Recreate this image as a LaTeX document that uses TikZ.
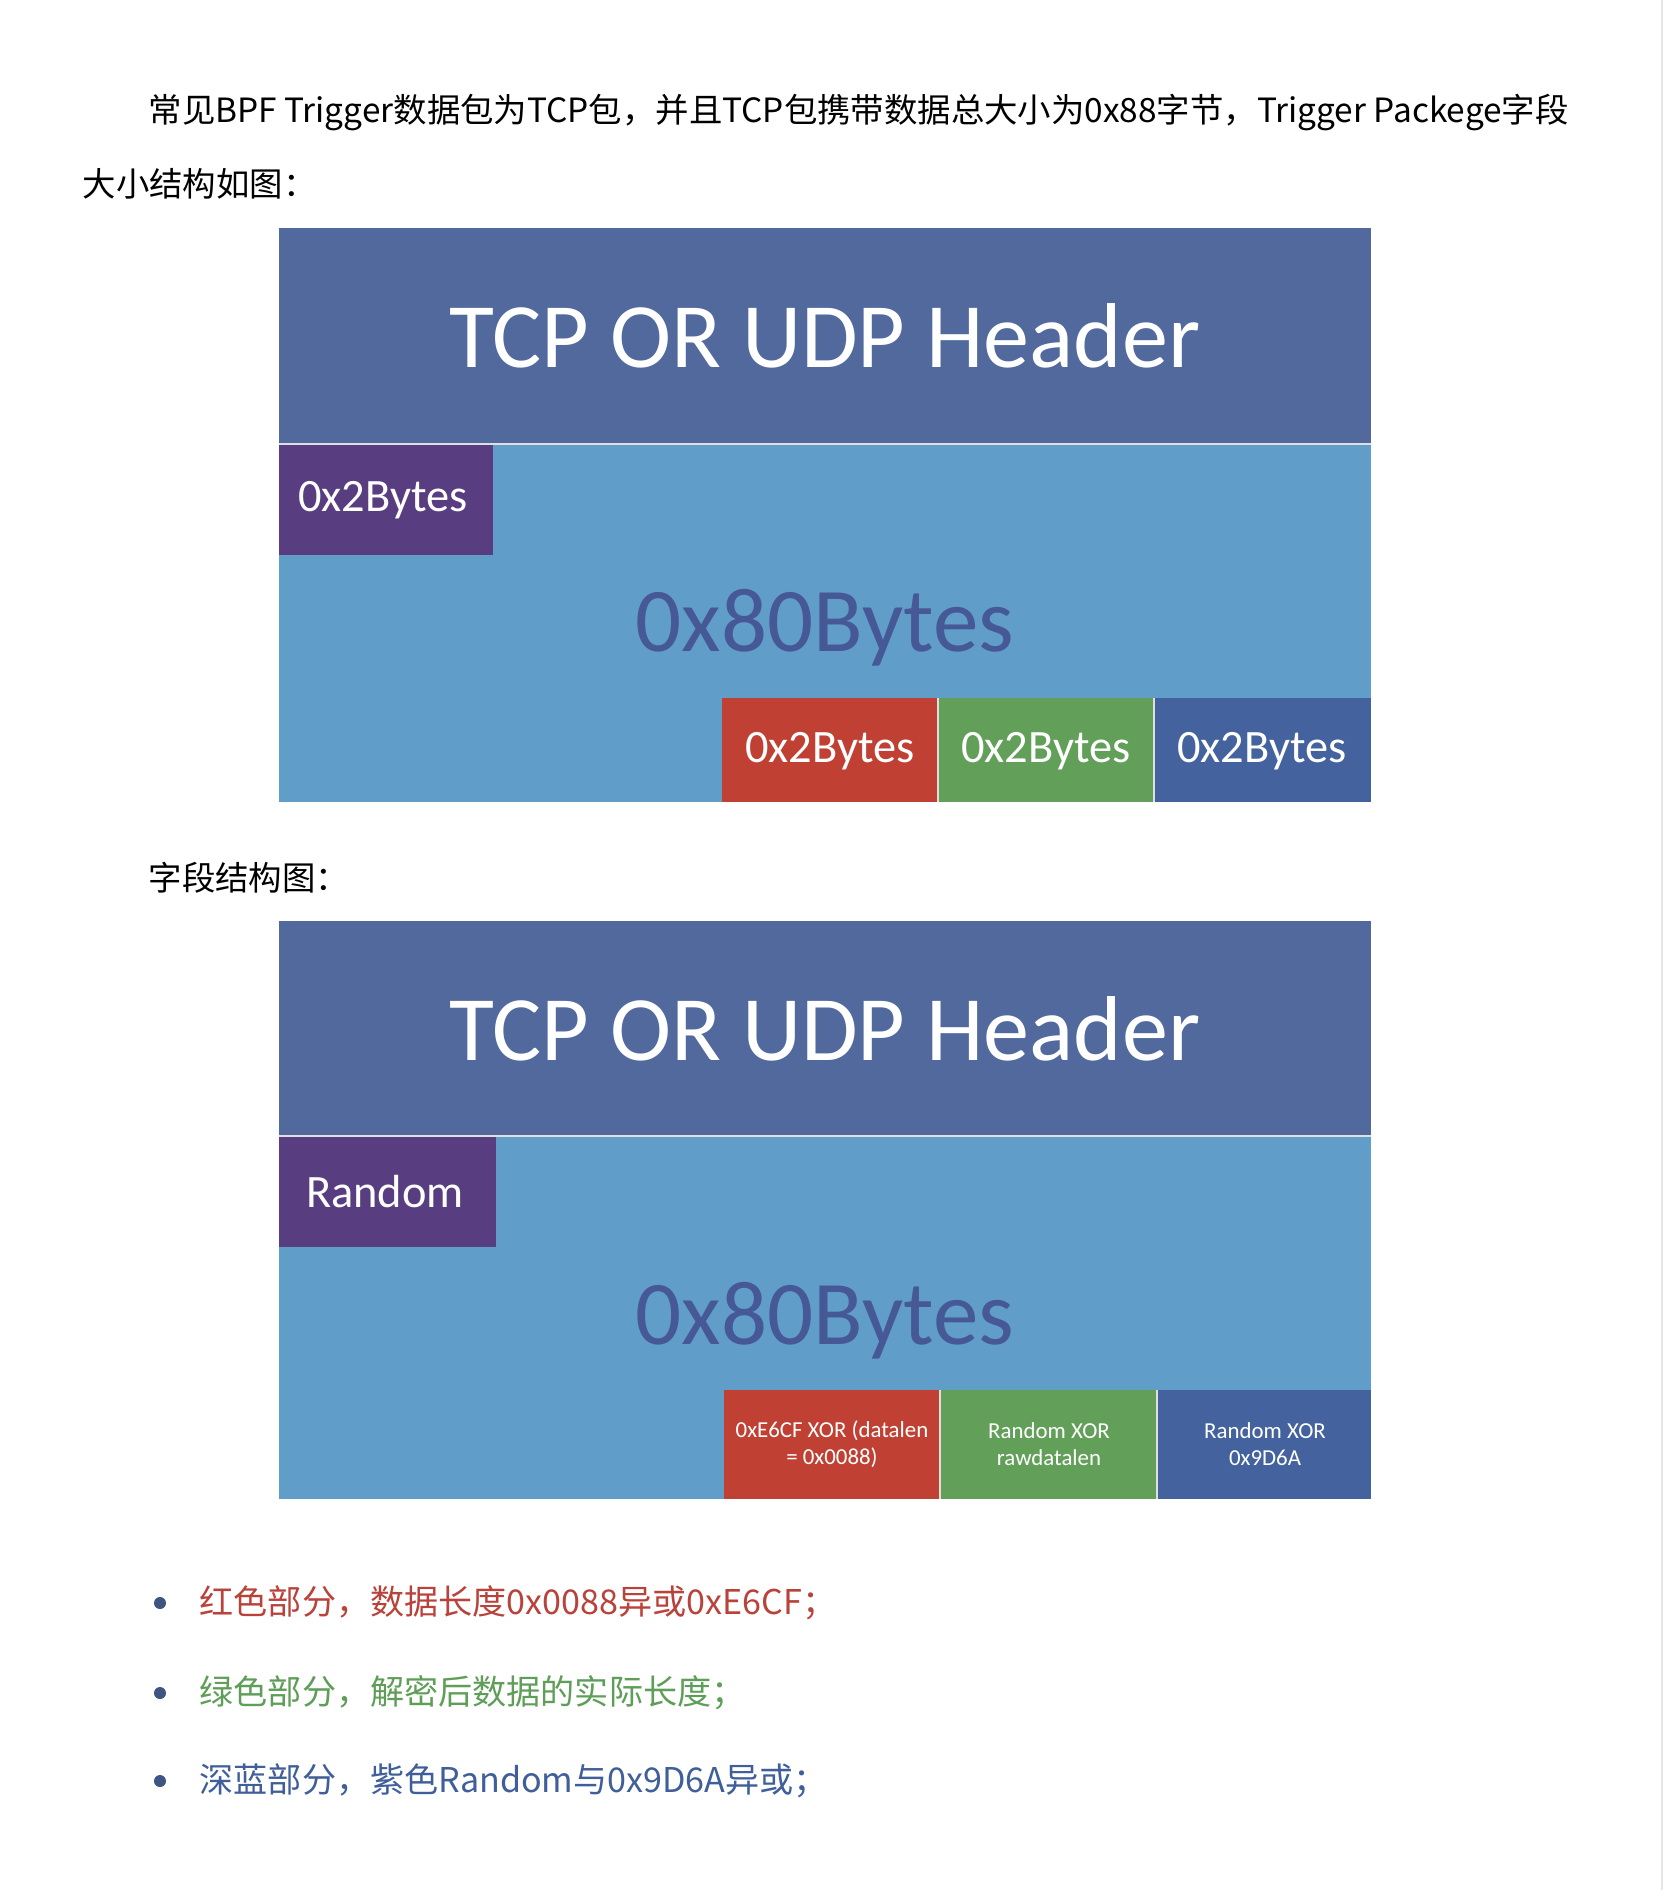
\documentclass[tikz,border=0pt]{standalone}
\usepackage{fontspec}
\setmainfont{Noto Sans CJK SC}
\newfontfamily\boxfont{Carlito}
\usetikzlibrary{positioning}
\definecolor{hdrblue}{RGB}{82,105,157}
\definecolor{bodyblue}{RGB}{96,157,200}
\definecolor{boxpurple}{RGB}{88,62,128}
\definecolor{boxred}{RGB}{192,65,52}
\definecolor{boxgreen}{RGB}{98,160,90}
\definecolor{boxdark}{RGB}{68,98,158}
\definecolor{bigtxt}{RGB}{70,88,150}
\definecolor{txtred}{RGB}{185,66,58}
\definecolor{txtgreen}{RGB}{94,158,88}
\definecolor{txtblue}{RGB}{63,94,154}
\definecolor{dotblue}{RGB}{62,84,130}
\tikzset{
  para/.style={anchor=west, inner sep=0pt, font=\fontsize{9.5}{11}\selectfont},
  note/.style={anchor=west, inner sep=0pt, font=\fontsize{9.7}{11}\selectfont},
  hdrtxt/.style={text=white, inner sep=0pt, font=\boxfont\fontsize{26.2}{30}\selectfont},
  bigbytes/.style={text=bigtxt, inner sep=0pt, font=\boxfont\fontsize{25.9}{30}\selectfont},
  midtxt/.style={text=white, inner sep=0pt, font=\boxfont\fontsize{13.2}{16}\selectfont},
  smalltxt/.style={text=white, inner sep=0pt, align=center, font=\boxfont\fontsize{6.5}{7.8}\selectfont},
  sep/.style={white!75!gray, line width=0.5pt}
}
\begin{document}
\begin{tikzpicture}[x=0.01cm, y=-0.01cm]
\useasboundingbox[fill=white] (0,0) rectangle (1664,1890);
\draw[gray!20, line width=0.6pt] (1662,0)--(1662,1890);
% intro text
\node[para] (introA) at (148,113) {常见BPF Trigger数据包为TCP包，并且TCP包携带数据总大小为0x88字节，Trigger Packege字段};
\node[para] (introB) at (82,184) {大小结构如图：};
% first structure
\fill[hdrblue] (279,228) rectangle (1371,444);
\fill[bodyblue] (279,444) rectangle (1371,802);
\fill[boxpurple] (279,445) rectangle (493,555);
\fill[boxred] (722,698) rectangle (938,802);
\fill[boxgreen] (938,698) rectangle (1154,802);
\fill[boxdark] (1154,698) rectangle (1371,802);
\draw[sep] (279,444)--(1371,444);
\draw[sep] (938,698)--(938,802);
\draw[sep] (1154,698)--(1154,802);
\node[hdrtxt] (hdrA) at (825,336) {TCP OR UDP Header};
\node[midtxt] (randA) at (383,500) {0x2Bytes};
\node[bigbytes] (bytesA) at (825,628) {0x80Bytes};
\node[midtxt] (redA) at (830,751) {0x2Bytes};
\node[midtxt] (greenA) at (1046,751) {0x2Bytes};
\node[midtxt] (darkA) at (1262,751) {0x2Bytes};
% field text
\node[para] (fieldtitle) at (148,878) {字段结构图：};
% second structure
\fill[hdrblue] (279,921) rectangle (1371,1136);
\fill[bodyblue] (279,1136) rectangle (1371,1499);
\fill[boxpurple] (279,1137) rectangle (496,1247);
\fill[boxred] (724,1390) rectangle (940,1499);
\fill[boxgreen] (940,1390) rectangle (1157,1499);
\fill[boxdark] (1157,1390) rectangle (1371,1499);
\draw[sep] (279,1136)--(1371,1136);
\draw[sep] (940,1390)--(940,1499);
\draw[sep] (1157,1390)--(1157,1499);
\node[hdrtxt] (hdrB) at (825,1029) {TCP OR UDP Header};
\node[midtxt] (randB) at (385,1192) {Random};
\node[bigbytes] (bytesB) at (825,1321) {0x80Bytes};
\node[smalltxt] (redB) at (832,1444) {0xE6CF XOR (datalen\\= 0x0088)};
\node[smalltxt] (greenB) at (1049,1444) {Random XOR\\rawdatalen};
\node[smalltxt] (darkB) at (1265,1444) {Random XOR\\0x9D6A};
% notes
\fill[dotblue] (160,1603) circle (6);
\fill[dotblue] (160,1693) circle (6);
\fill[dotblue] (160,1781) circle (6);
\node[note, text=txtred] (noteA) at (199,1603) {红色部分，数据长度0x0088异或0xE6CF；};
\node[note, text=txtgreen] (noteB) at (199,1693) {绿色部分，解密后数据的实际长度；};
\node[note, text=txtblue] (noteC) at (199,1781) {深蓝部分，紫色Random与0x9D6A异或；};
\end{tikzpicture}
\end{document}
